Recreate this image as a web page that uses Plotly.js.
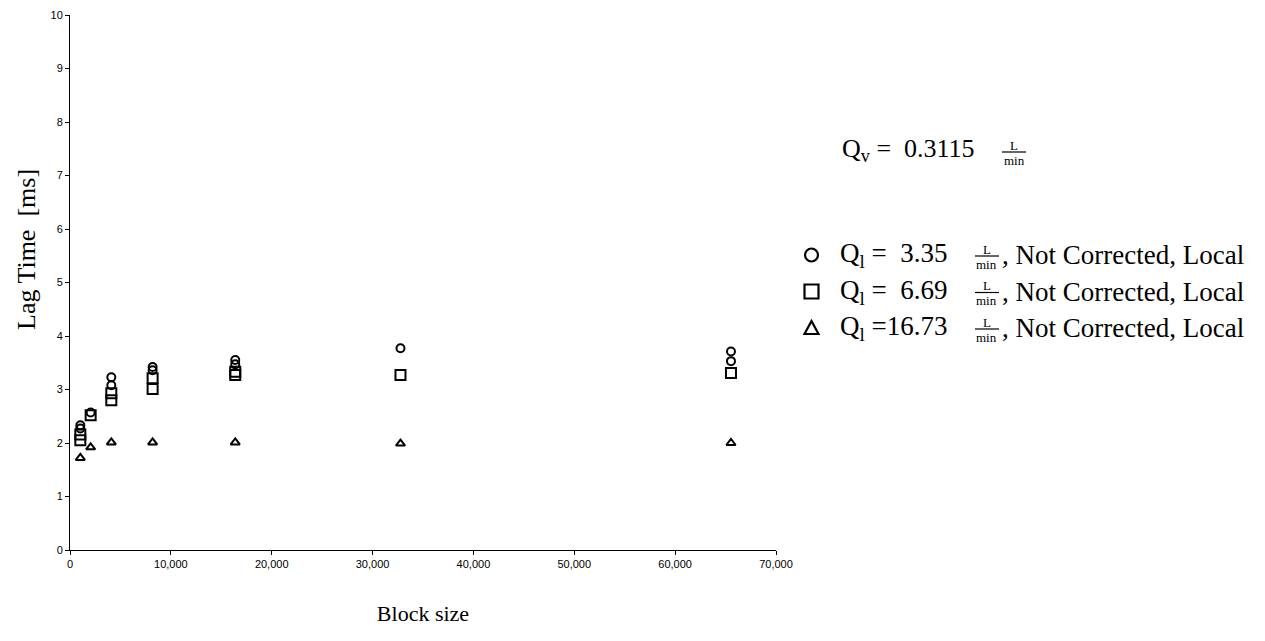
<!DOCTYPE html>
<html>
<head>
<meta charset="utf-8">
<script src="https://cdn.plot.ly/plotly-3.0.1.min.js"></script>
<style>html,body{margin:0;padding:0;background:#fff;}#chart{width:1265px;height:641px;}</style>
</head>
<body>
<div id="chart"></div>
<script>
// Block sizes (x) and lag times (y, ms)
const circleX = [1024, 1024, 2048, 4096, 4096, 8192, 8192, 16384, 16384, 32768, 65536, 65536];
const circleY = [2.33, 2.27, 2.57, 3.23, 3.08, 3.42, 3.36, 3.55, 3.47, 3.77, 3.71, 3.53];
const squareX = [1024, 1024, 2048, 4096, 4096, 8192, 8192, 16384, 16384, 32768, 65536];
const squareY = [2.16, 2.05, 2.52, 2.93, 2.80, 3.21, 3.01, 3.33, 3.27, 3.27, 3.31];
const triangleX = [1024, 2048, 4096, 8192, 16384, 32768, 65536];
const triangleY = [1.72, 1.92, 2.01, 2.01, 2.01, 1.99, 2.0];

const seriesNames = ["Q<sub>l</sub> =  3.35", "Q<sub>l</sub> =  6.69", "Q<sub>l</sub> =16.73"];
const seriesSuffix = ", Not Corrected, Local";
const headerText = "Q<sub>v</sub> =  0.3115";
const xTickVals = [0, 10000, 20000, 30000, 40000, 50000, 60000, 70000];
const xTickText = ["0", "10,000", "20,000", "30,000", "40,000", "50,000", "60,000", "70,000"];
const yTickVals = [0, 1, 2, 3, 4, 5, 6, 7, 8, 9, 10];

const W = 1265, H = 641;
const M = {l: 70, r: 489, t: 15, b: 91};
const pw = W - M.l - M.r, ph = H - M.t - M.b;
const px = x => (x - M.l) / pw;
const py = y => (H - M.b - y) / ph;

const serif = "Liberation Serif, Times New Roman, serif";
const sans = "Liberation Sans, Arial, sans-serif";

function mk(x, y, symbol, size) {
  return {
    x: x, y: y, type: "scatter", mode: "markers", showlegend: false, cliponaxis: false,
    marker: {symbol: symbol, size: size, color: "#000", line: {color: "#000", width: 2}}
  };
}
const data = [
  mk(circleX, circleY, "circle-open", 8),
  mk(squareX, squareY, "square-open", 10),
  mk(triangleX, triangleY, "triangle-up-open", 8)
];

const annotations = [];
const shapes = [];
function frac(cx, cy) {
  annotations.push({xref: "paper", yref: "paper", x: px(cx), y: py(cy - 7), text: "L", showarrow: false,
    font: {family: serif, size: 13, color: "#000"}, xanchor: "center", yanchor: "middle"});
  annotations.push({xref: "paper", yref: "paper", x: px(cx), y: py(cy + 8), text: "min", showarrow: false,
    font: {family: serif, size: 13, color: "#000"}, xanchor: "center", yanchor: "middle"});
  shapes.push({type: "line", xref: "paper", yref: "paper", x0: px(cx - 12), x1: px(cx + 12), y0: py(cy), y1: py(cy),
    line: {color: "#000", width: 1.2}});
}
// Q_v header
annotations.push({xref: "paper", yref: "paper", x: px(840), y: py(150), text: headerText, showarrow: false,
  font: {family: serif, size: 26, color: "#000"}, xanchor: "left", yanchor: "middle"});
frac(1014, 152);

// legend rows
const rowsY = [255, 291.5, 328];
const iconX = 811.5, ic = 6.5;
const lw = 2.2;
shapes.push({type: "circle", xref: "paper", yref: "paper", x0: px(iconX - ic), x1: px(iconX + ic),
  y0: py(rowsY[0] + ic), y1: py(rowsY[0] - ic), line: {color: "#000", width: lw}});
shapes.push({type: "rect", xref: "paper", yref: "paper", x0: px(iconX - 7), x1: px(iconX + 7),
  y0: py(rowsY[1] + 7), y1: py(rowsY[1] - 7), line: {color: "#000", width: lw}});
shapes.push({type: "path", xref: "paper", yref: "paper",
  path: `M ${px(iconX - 7)} ${py(rowsY[2] + 6)} L ${px(iconX + 7)} ${py(rowsY[2] + 6)} L ${px(iconX)} ${py(rowsY[2] - 7)} Z`,
  line: {color: "#000", width: lw}});
for (let i = 0; i < 3; i++) {
  annotations.push({xref: "paper", yref: "paper", x: px(838), y: py(rowsY[i]), text: seriesNames[i], showarrow: false,
    font: {family: serif, size: 27, color: "#000"}, xanchor: "left", yanchor: "middle"});
  frac(987, rowsY[i] + 1);
  annotations.push({xref: "paper", yref: "paper", x: px(1000), y: py(rowsY[i]), text: seriesSuffix, showarrow: false,
    font: {family: serif, size: 27, color: "#000"}, xanchor: "left", yanchor: "middle"});
}
// y-axis title
annotations.push({xref: "paper", yref: "paper", x: px(26), y: py(250), text: "Lag Time\u00a0\u00a0[ms]", showarrow: false,
  textangle: -90, font: {family: serif, size: 26, color: "#000"}, xanchor: "center", yanchor: "middle"});

const layout = {
  width: W, height: H,
  margin: M,
  paper_bgcolor: "#fff", plot_bgcolor: "#fff",
  showlegend: false,
  xaxis: {
    range: [0, 70000], tickvals: xTickVals, ticktext: xTickText,
    ticks: "outside", ticklen: 4, tickcolor: "#000", showline: true, linecolor: "#000", linewidth: 1,
    showgrid: false, zeroline: false,
    tickfont: {family: sans, size: 11, color: "#000"},
    title: {text: "Block size", font: {family: serif, size: 22, color: "#000"}, standoff: 36}
  },
  yaxis: {
    range: [0, 10], tickvals: yTickVals,
    ticks: "outside", ticklen: 4, tickcolor: "#000", showline: true, linecolor: "#000", linewidth: 1,
    showgrid: false, zeroline: false,
    tickfont: {family: sans, size: 11, color: "#000"}
  },
  annotations: annotations,
  shapes: shapes
};
Plotly.newPlot("chart", data, layout, {displayModeBar: false, staticPlot: true});
</script>
</body>
</html>
